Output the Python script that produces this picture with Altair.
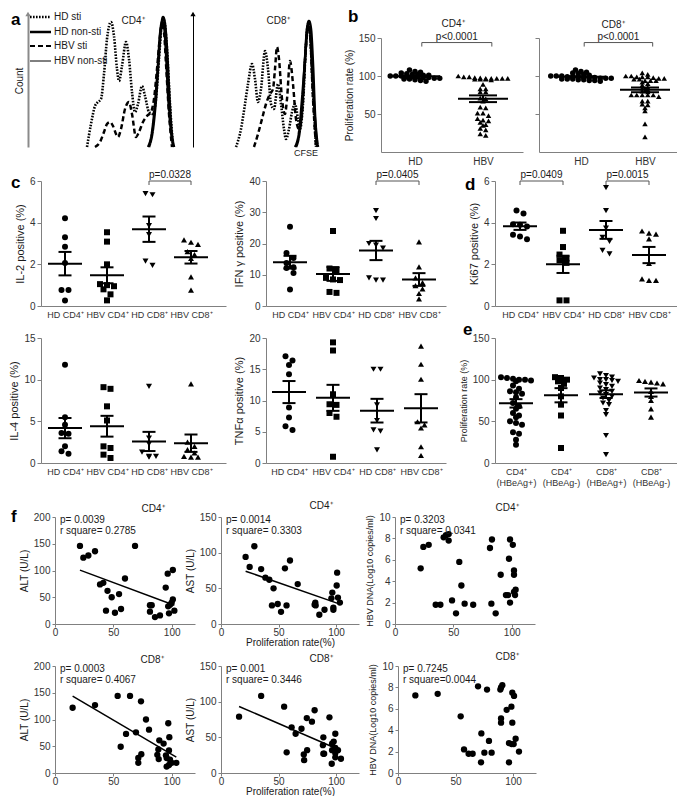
import json
import altair as alt
import pandas as pd

FONT = "Liberation Sans"
AXC = "#808080"
LBC = "#333333"
TXC = "#1a1a1a"

# ---------------- a: CFSE histograms (CFSE channel, cell count) ----------------
SERIES = ["HD sti", "HD non-sti", "HBV sti", "HBV non-sti"]
DASHES = [[1.6, 1.4], [1, 0], [5, 3], [1, 0]]
WIDTHS = [2.6, 2.4, 2.0, 1.0]

A4_HD_STI_CH = [59, 63, 67, 70, 73, 76, 79, 83, 86, 89, 91, 94, 98, 101, 104, 107, 110, 114, 117, 121, 125, 128, 131, 134, 136, 139, 142, 145]
A4_HD_STI_N = [0, 23, 41, 45, 48, 73, 108, 125, 111, 78, 66, 81, 105, 88, 55, 35, 43, 61, 51, 35, 33, 48, 88, 123, 127, 98, 43, 0]
A4_HD_NON_CH = [121, 125, 128, 131, 133, 135, 137, 139, 141, 143, 146]
A4_HD_NON_N = [0, 18, 48, 93, 118, 130, 123, 98, 58, 23, 0]
A4_HBV_STI_CH = [67, 72, 76, 79, 82, 85, 88, 90, 93, 97, 101, 104, 108, 111, 115, 119, 123, 126, 129, 132, 134, 136, 138, 141, 144]
A4_HBV_STI_N = [0, 5, 15, 23, 25, 21, 13, 10, 18, 38, 45, 33, 10, 15, 25, 31, 35, 48, 78, 111, 123, 115, 83, 33, 0]
A4_HBV_NON_CH = [120, 124, 127, 130, 132, 134, 136, 138, 140, 143, 146]
A4_HBV_NON_N = [0, 15, 43, 83, 113, 125, 121, 93, 53, 15, 0]

A8_HD_STI_CH = [43, 48, 52, 55, 59, 62, 65, 68, 72, 75, 78, 81, 85, 88, 91, 93, 96, 99, 102, 105, 107, 110, 113, 115, 117, 120, 123]
A8_HD_STI_N = [0, 18, 43, 63, 83, 68, 45, 58, 96, 78, 43, 38, 63, 43, 18, 8, 18, 35, 43, 28, 18, 43, 103, 123, 113, 53, 0]
A8_HD_NON_CH = [103, 107, 110, 112, 114, 116, 118, 120, 122, 125]
A8_HD_NON_N = [0, 18, 53, 88, 118, 126, 118, 83, 33, 0]
A8_HBV_STI_CH = [61, 65, 69, 73, 77, 80, 82, 84, 86, 89, 92, 94, 97, 100, 103, 106, 109, 112, 114, 115, 117, 120, 123]
A8_HBV_STI_N = [0, 13, 28, 43, 53, 58, 78, 100, 88, 48, 33, 48, 86, 63, 28, 18, 33, 83, 113, 121, 113, 48, 0]
A8_HBV_NON_CH = [102, 106, 109, 112, 114, 115, 117, 119, 122, 124]
A8_HBV_NON_N = [0, 15, 48, 88, 115, 121, 115, 78, 28, 0]

# ---------------- b: proliferation rate (%) ----------------
B4_HD = [108, 106, 105, 104, 103, 102, 102, 101, 101, 100, 100, 100, 99, 99, 99, 98, 98, 97, 97, 96, 96, 95, 94, 93]
B4_HBV = [100, 97.5, 96, 96, 97, 98, 99, 99, 96, 97, 97, 97, 97, 95, 89, 83, 83, 79, 79, 71, 70, 67, 58, 59,
          51, 51, 48, 44, 41, 42, 39, 36, 35, 29, 31, 22, 24]
B8_HD = [108, 106, 105, 104, 103, 102, 101, 100, 100, 100, 99, 99, 99, 98, 98, 98, 97, 97, 97, 96, 96, 96, 95, 95, 94, 94, 93]
B8_HBV = [104, 100, 99, 100, 97, 99, 102, 97, 99, 96, 94, 94, 94, 96, 98, 79, 75, 75, 75, 73, 75, 80, 75, 84,
          85, 82, 90, 92, 88, 63, 67, 62, 58, 67, 54, 37, 20]

# ---------------- c / d: cytokine and Ki67 positive (%) ----------------
GROUPS_C = ["HD CD4⁺", "HBV CD4⁺", "HD CD8⁺", "HBV CD8⁺"]
IL2 = [[4.21, 3.3, 2.85, 2.06, 0.77, 0.77, 0.27],
       [3.54, 3.09, 2.0, 1.0, 0.95, 1.05, 0.8, 0.56, 0.27],
       [5.34, 5.39, 3.86, 3.43, 1.95, 2.15],
       [3.06, 2.96, 3.17, 2.61, 2.47, 2.28, 1.4, 0.76]]
IFNG = [[25.4, 17.0, 15.4, 13.8, 12.4, 12.2, 10.6, 5.3],
        [24.0, 12.0, 11.5, 9.0, 8.5, 8.3, 4.5, 4.2],
        [30.5, 28.0, 20.0, 19.5, 18.5, 9.0, 8.3, 8.3],
        [20.5, 12.5, 9.0, 7.5, 6.5, 5.5, 4.0, 2.3]]
KI67 = [[4.58, 4.44, 3.93, 3.9, 3.82, 3.42, 3.34, 3.21],
        [3.61, 2.83, 2.28, 2.2, 2.47, 2.07, 0.27, 0.27],
        [5.68, 4.58, 3.74, 3.3, 3.1, 2.5, 2.67],
        [3.5, 3.6, 3.45, 3.22, 2.04, 1.3, 1.23, 1.23]]
IL4 = [[11.8, 5.5, 4.6, 3.6, 3.5, 2.0, 1.4, 1.1],
       [9.1, 8.9, 6.8, 5.1, 2.0, 1.8, 1.0, 0.6],
       [9.2, 3.0, 2.3, 1.3, 0.8, 0.8, 0.7],
       [9.5, 2.5, 2.0, 1.6, 1.2, 0.8, 0.7, 0.7]]
TNFA = [[17.1, 16.4, 15.7, 14.2, 8.9, 7.3, 5.9, 5.3],
        [19.3, 18.0, 11.0, 9.4, 9.3, 8.0, 7.4, 1.0],
        [15.0, 15.0, 9.3, 6.8, 5.3, 5.1, 2.1],
        [18.7, 15.8, 13.4, 6.6, 6.1, 5.6, 2.6, 1.2]]

# ---------------- e: proliferation by HBeAg status ----------------
E_LABELS = [["CD4⁺", "(HBeAg+)"], ["CD4⁺", "(HBeAg-)"], ["CD8⁺", "(HBeAg+)"], ["CD8⁺", "(HBeAg-)"]]
E_VALS = [[103, 102, 101, 100, 100, 99, 98, 93, 89, 86, 85, 83, 79, 72, 68, 65, 60, 57, 55, 50, 48, 46, 37, 35, 28, 22],
          [103, 102, 100, 98, 95, 90, 80, 70, 57, 18],
          [107, 105, 103, 102, 100, 100, 99, 98, 96, 94, 92, 90, 88, 86, 84, 82, 80, 78, 75, 72, 70, 63, 58, 33, 10],
          [99, 98, 97, 96, 95, 86, 80, 75, 65, 55]]

# ---------------- f: correlations with proliferation rate ----------------
ALT4_X = [21.4, 24.3, 28.6, 34.3, 38.6, 41.4, 45, 48.6, 43.7, 51.4, 54.9, 56.6, 60, 68.6, 81.4, 82.9, 81.4, 85.7, 90, 94.9, 96.6, 97, 98.6, 100, 101, 101, 97.7, 102.3]
ALT4_Y = [146, 124, 128, 136, 74, 77, 62, 50, 25, 21, 56, 28, 85, 146, 35, 35, 23, 13, 16, 68, 94, 33, 36, 40, 46, 101, 20, 25]
AST4_X = [21.4, 24.9, 29, 34.9, 38.6, 42, 45.7, 44.3, 49.3, 52.2, 55.6, 57, 60, 66.7, 82, 81.4, 82.3, 85.5, 90, 96, 96.8, 97.7, 97.7, 100.6, 101, 101.7, 103.4]
AST4_Y = [94, 80, 109, 77, 65, 62, 50, 26, 28, 17, 78, 26, 89, 56, 30, 27, 26, 13, 20, 36, 44, 23, 20, 54, 72, 37, 30]
DNA4_X = [22, 24.3, 28.9, 34.9, 38.9, 41.7, 43.7, 46, 46, 48.9, 52.3, 55.1, 56.9, 59.7, 67, 81.4, 83.1, 82.6, 86.3, 90.6, 95.1, 96.9, 97.7, 98.6, 98.6, 101, 102, 102, 102, 102.9, 103.4]
DNA4_Y = [5.2, 7.2, 7.4, 1.8, 1.8, 8.1, 8.3, 8.4, 7.8, 2.2, 1.0, 5.8, 3.6, 1.9, 1.8, 7.1, 7.9, 1.9, 1.0, 4.6, 2.7, 2.7, 6.1, 7.9, 2.0, 7.4, 5.0, 4.6, 3.0, 2.7, 3.2]
ALT8_X = [15.1, 34.3, 53.7, 64.3, 56.3, 60.9, 69.4, 73.7, 78, 80.6, 71.4, 71.4, 74, 89.4, 88.6, 87.7, 88.9, 93.1, 95.1, 97.1, 98, 97.7, 95.7, 97.7, 98.6, 100, 104, 95.7]
ALT8_Y = [122, 127, 144, 144, 49, 73, 76, 134, 100, 81, 28, 19, 35, 61, 44, 34, 26, 55, 33, 93, 67, 42, 12, 15, 25, 19, 19, 28]
AST8_X = [15.7, 34.9, 54.9, 57.1, 61.4, 64.9, 70, 72, 72.3, 74.9, 74.6, 79.1, 81.4, 89, 88.6, 89, 89.7, 94.3, 96.6, 96.6, 96.3, 98, 99.4, 99.4, 99.4, 99.4, 101.7, 104.3]
AST8_Y = [79, 108, 93, 29, 64, 55, 62, 26, 18, 32, 77, 72, 88, 50, 39, 27, 27, 78, 41, 32, 13, 44, 55, 28, 22, 35, 32, 20]
DNA8_X = [15.1, 34.5, 54.5, 57.4, 61.4, 64.9, 69.6, 72.5, 72.2, 75.1, 77.4, 79.1, 81.4, 89, 89.6, 90.7, 89.6, 89.6, 94.5, 96.5, 98.8, 100.6, 96.5, 98.6, 99.4, 99.4, 100.9, 102.3, 105.2]
DNA8_Y = [7.25, 7.4, 5.3, 2.2, 1.8, 1.8, 8.1, 3.7, 1.0, 1.9, 7.8, 3.0, 1.9, 7.8, 8.0, 8.2, 5.1, 4.7, 5.9, 2.8, 2.7, 2.7, 1.0, 6.2, 4.7, 7.5, 7.2, 3.2, 2.0]

SH4 = ["circle", "square", "triangle-down", "triangle-up"]


# ---------------- helpers ----------------
def note(text, x, y, size=10, weight="normal", align="center", baseline="middle", color=TXC):
    return alt.Chart(pd.DataFrame({"t": [text]})).mark_text(
        fontSize=size, fontWeight=weight, align=align, baseline=baseline, color=color
    ).encode(text="t:N", x=alt.value(x), y=alt.value(y))


def letter(ch, x, y):
    return note(ch, x, y, size=17, weight="bold", align="left", baseline="top", color="black")


def gap(w, h):
    return alt.Chart(pd.DataFrame({"t": [""]})).mark_text(opacity=0).encode(
        text="t:N").properties(width=w, height=h)


def swarm(vals, ymax, height, dx, dy):
    order = sorted(range(len(vals)), key=lambda i: -vals[i])
    offs = [0.0] * len(vals)
    rows, cur, top = [], [], None
    for i in order:
        ypx = vals[i] / ymax * height
        if cur and top - ypx > dy:
            rows.append(cur)
            cur = []
        if not cur:
            top = ypx
        cur.append(i)
    if cur:
        rows.append(cur)
    for r in rows:
        k = len(r)
        for j, i in enumerate(r):
            offs[i] = (j - (k - 1) / 2) * dx
    return offs


def key_layers(rows_y):
    out = []
    for i, s in enumerate(SERIES):
        out.append(alt.Chart(pd.DataFrame({"s": [s]})).mark_rule(
            color="black", strokeDash=DASHES[i], strokeWidth=WIDTHS[i]
        ).encode(x=alt.value(2), x2=alt.value(23), y=alt.value(rows_y[i])))
        out.append(note(s, 26, rows_y[i], align="left"))
    return out


def hist(curves, width, height, xmax, axis_color, axis_w, count_title, extra=()):
    rows = []
    for name, chs, ns in curves:
        for c, n in zip(chs, ns):
            rows.append({"series": name, "ch": c, "n": n})
    df = pd.DataFrame(rows)
    xs = alt.Scale(domain=[0, xmax], nice=False, zero=False)
    ys = alt.Scale(domain=[0, 133], nice=False)
    yax = alt.Axis(title=count_title, ticks=False, labels=False, grid=False,
                   domainColor=axis_color, domainWidth=axis_w, titleFontSize=10,
                   titleFontWeight="normal", titleColor=TXC, titlePadding=4)
    lines = alt.Chart(df).mark_line(interpolate="monotone", color="black").encode(
        x=alt.X("ch:Q", scale=xs, axis=None),
        y=alt.Y("n:Q", scale=ys, axis=yax),
        strokeDash=alt.StrokeDash("series:N", scale=alt.Scale(domain=SERIES, range=DASHES), legend=None),
        strokeWidth=alt.StrokeWidth("series:N", scale=alt.Scale(domain=SERIES, range=WIDTHS), legend=None),
    )
    arrow = alt.Chart(pd.DataFrame({"ch": [0], "n": [133]})).mark_point(
        shape="triangle-up", filled=True, size=28, color=axis_color, opacity=1
    ).encode(x=alt.X("ch:Q", scale=xs, axis=None), y=alt.Y("n:Q", scale=ys, axis=yax))
    return alt.layer(lines, arrow, *extra).properties(width=width, height=height)


def dotplot(groups, shapes, ymax, yticks, ytitle, width, height, step, first, xlabels,
            brackets=(), ylabels=True, mean_half=17, cap_half=6.5, msize=36,
            ytitle_size=11, dx=7.0, dy=5.0, xlabel_size=9, extra=()):
    n = len(groups)
    rows = []
    for gi, vals in enumerate(groups):
        offs = swarm(vals, ymax, height, dx, dy)
        for v, o in zip(vals, offs):
            rows.append({"g": gi + 1, "v": v, "xp": gi + 1 + o / step, "shp": shapes[gi]})
    df = pd.DataFrame(rows)
    lo = 1 - first / step
    xs = alt.Scale(domain=[lo, lo + width / step], nice=False, zero=False)
    ys = alt.Scale(domain=[0, ymax], nice=False)
    xax = alt.Axis(values=list(range(1, n + 1)),
                   labelExpr=json.dumps(xlabels, ensure_ascii=False) + "[datum.value - 1]",
                   title=None, ticks=False, grid=False, domainColor=AXC, labelFontSize=xlabel_size,
                   labelColor=LBC, labelPadding=4, labelAngle=0, labelFlush=False,
                   labelOverlap=False)
    yax = alt.Axis(values=yticks, title=ytitle, labels=ylabels, grid=False, domainColor=AXC,
                   tickColor=AXC, tickSize=4, labelFontSize=10, labelColor=LBC, labelPadding=2,
                   titleFontSize=ytitle_size, titleFontWeight="normal", titleColor=TXC,
                   titlePadding=4)

    def X(f):
        return alt.X(f, scale=xs, axis=xax)

    def Y(f):
        return alt.Y(f, scale=ys, axis=yax)

    base = alt.Chart(df)
    stats = base.transform_aggregate(m="mean(v)", se="stderr(v)", groupby=["g"]).transform_calculate(
        lo="datum.m - datum.se", hi="datum.m + datum.se",
        ml=f"datum.g - {mean_half / step}", mr=f"datum.g + {mean_half / step}",
        cl=f"datum.g - {cap_half / step}", cr=f"datum.g + {cap_half / step}")
    layers = [
        base.mark_point(filled=True, size=msize, opacity=1, color="black").encode(
            x=X("xp:Q"), y=Y("v:Q"), shape=alt.Shape("shp:N", scale=None)),
        stats.mark_rule(color="black", strokeWidth=2).encode(x=X("ml:Q"), x2="mr:Q", y=Y("m:Q")),
        stats.mark_rule(color="black", strokeWidth=2).encode(x=X("g:Q"), y=Y("lo:Q"), y2="hi:Q"),
        stats.mark_rule(color="black", strokeWidth=2).encode(x=X("cl:Q"), x2="cr:Q", y=Y("lo:Q")),
        stats.mark_rule(color="black", strokeWidth=2).encode(x=X("cl:Q"), x2="cr:Q", y=Y("hi:Q")),
    ]
    if brackets:
        drop = 4 * ymax / height
        bdf = pd.DataFrame([{"a": a, "b": b, "y": y, "y0": y - drop, "c": (a + b) / 2, "t": t}
                            for a, b, y, t in brackets])
        bb = alt.Chart(bdf)
        layers += [
            bb.mark_rule(color="#555555", strokeWidth=1).encode(x=X("a:Q"), x2="b:Q", y=Y("y:Q")),
            bb.mark_rule(color="#555555", strokeWidth=1).encode(x=X("a:Q"), y=Y("y0:Q"), y2="y:Q"),
            bb.mark_rule(color="#555555", strokeWidth=1).encode(x=X("b:Q"), y=Y("y0:Q"), y2="y:Q"),
            bb.mark_text(fontSize=10, baseline="bottom", dy=-1, color=TXC).encode(
                x=X("c:Q"), y=Y("y:Q"), text="t:N"),
        ]
    layers += list(extra)
    return alt.layer(*layers).properties(width=width, height=height)


def scatter(xv, yv, ymax, yticks, ytitle, width, height, ptxt, rtxt, title, tx, ty,
            xtitle=None, reg=False, ytitle_size=10, extra=()):
    df = pd.DataFrame({"x": xv, "y": yv})
    xs = alt.Scale(domain=[0, 120], nice=False)
    ys = alt.Scale(domain=[0, ymax], nice=False)
    xax = alt.Axis(values=[0, 50, 100], title=xtitle, grid=False, domainColor=AXC, tickColor=AXC,
                   tickSize=3, labelFontSize=10, labelColor=LBC, labelPadding=0, labelFlush=False,
                   titleFontSize=10, titleFontWeight="normal", titleColor=TXC, titlePadding=0)
    yax = alt.Axis(values=yticks, title=ytitle, grid=False, domainColor=AXC, tickColor=AXC,
                   tickSize=3, labelFontSize=10, labelColor=LBC, labelPadding=2,
                   titleFontSize=ytitle_size, titleFontWeight="normal", titleColor=TXC,
                   titlePadding=4)

    def X(f):
        return alt.X(f, scale=xs, axis=xax)

    def Y(f):
        return alt.Y(f, scale=ys, axis=yax)

    layers = [alt.Chart(df).mark_circle(size=40, opacity=1, color="black").encode(x=X("x:Q"), y=Y("y:Q"))]
    if reg:
        layers.append(alt.Chart(df).transform_regression("x", "y").mark_line(
            color="black", strokeWidth=1.5).encode(x=X("x:Q"), y=Y("y:Q")))
    layers += [note(ptxt, 5, 3, align="left"), note(rtxt, 5, 14, align="left"), note(title, tx, ty)]
    layers += list(extra)
    return alt.layer(*layers).properties(width=width, height=height)


# ---------------- panels ----------------
a1 = hist([(SERIES[0], A4_HD_STI_CH, A4_HD_STI_N), (SERIES[1], A4_HD_NON_CH, A4_HD_NON_N),
           (SERIES[2], A4_HBV_STI_CH, A4_HBV_STI_N), (SERIES[3], A4_HBV_NON_CH, A4_HBV_NON_N)],
          157, 133, 157, "#8a8a8a", 2, "Count",
          extra=key_layers([3, 18, 32, 47]) + [note("CD4⁺", 105, 7), letter("a", -17, -2)])
a2 = hist([(SERIES[0], A8_HD_STI_CH, A8_HD_STI_N), (SERIES[1], A8_HD_NON_CH, A8_HD_NON_N),
           (SERIES[2], A8_HBV_STI_CH, A8_HBV_STI_N), (SERIES[3], A8_HBV_NON_CH, A8_HBV_NON_N)],
          145, 133, 145, "black", 1, None,
          extra=[note("CD8⁺", 85, 7), note("CFSE", 113, 139, size=9)])

b1 = dotplot([B4_HD, B4_HBV], ["circle", "triangle-up"], 150, [50, 100, 150], "Proliferation rate (%)",
             142, 114, 68, 34, ["HD", "HBV"], brackets=[(1.1, 2.13, 144, "p<0.0001")],
             mean_half=25, cap_half=14, msize=30, ytitle_size=10, dx=5.5, dy=2.5, xlabel_size=10,
             extra=[note("CD4⁺", 72, -14), letter("b", -33, -29)])
b2 = dotplot([B8_HD, B8_HBV], ["circle", "triangle-up"], 150, [50, 100, 150], None,
             138, 114, 64, 42, ["HD", "HBV"], brackets=[(1.05, 2.12, 144, "p<0.0001")], ylabels=False,
             mean_half=25, cap_half=14, msize=30, dx=5.5, dy=2.5, xlabel_size=10,
             extra=[note("CD8⁺", 74, -13)])

il2 = dotplot(IL2, SH4, 6, [0, 2, 4, 6], "IL-2 positive (%)", 185, 125, 42, 24, GROUPS_C,
              brackets=[(3, 4, 6, "p=0.0328")], extra=[letter("c", -30, -6)])
ifng = dotplot(IFNG, SH4, 40, [0, 10, 20, 30, 40], "IFN γ positive (%)", 180, 125, 43, 24, GROUPS_C,
               brackets=[(3, 4, 40, "p=0.0405")])
ki67 = dotplot(KI67, SH4, 6, [0, 2, 4, 6], "Ki67 positive (%)", 182, 125, 43, 25, GROUPS_C,
               brackets=[(1, 2, 6, "p=0.0409"), (3, 4, 6, "p=0.0015")], extra=[letter("d", -30, -4)])
il4 = dotplot(IL4, SH4, 15, [0, 5, 10, 15], "IL-4 positive (%)", 185, 125, 42, 24, GROUPS_C)
tnfa = dotplot(TNFA, SH4, 20, [0, 5, 10, 15, 20], "TNFα positive (%)", 180, 125, 44, 23, GROUPS_C)
epan = dotplot(E_VALS, SH4, 150, [0, 50, 100, 150], "Proliferation rate (%)", 182, 125, 45, 21, E_LABELS,
               ytitle_size=9, dx=6, dy=4, extra=[letter("e", -32, -16)])

alt4 = scatter(ALT4_X, ALT4_Y, 200, [0, 50, 100, 150, 200], "ALT (U/L)", 140, 107,
               "p= 0.0039", "r square= 0.2785", "CD4⁺", 98, -8, reg=True, extra=[letter("f", -44, -8)])
ast4 = scatter(AST4_X, AST4_Y, 150, [0, 50, 100, 150], "AST (U/L)", 138, 107,
               "p= 0.0014", "r square= 0.3303", "CD4⁺", 100, -11, xtitle="Proliferation rate(%)", reg=True)
dna4 = scatter(DNA4_X, DNA4_Y, 10, [0, 2, 4, 6, 8, 10], "HBV DNA(Log10 copies/ml)", 140, 107,
               "p=  0.3203", "r square= 0.0341", "CD4⁺", 112, -9, ytitle_size=9)
alt8 = scatter(ALT8_X, ALT8_Y, 200, [0, 50, 100, 150, 200], "ALT (U/L)", 140, 107,
               "p= 0.0003", "r square= 0.4067", "CD8⁺", 97, -6, reg=True)
ast8 = scatter(AST8_X, AST8_Y, 150, [0, 50, 100, 150], "AST (U/L)", 138, 107,
               "p= 0.001", "r square= 0.3446", "CD8⁺", 100, -7, xtitle="Proliferation rate(%)", reg=True)
dna8 = scatter(DNA8_X, DNA8_Y, 10, [0, 2, 4, 6, 8, 10], "HBV DNA(Log10 copies/ml)", 138, 107,
               "p= 0.7245", "r square=0.0044", "CD8⁺", 109, -9, ytitle_size=9)

RES = dict(strokeDash="independent", strokeWidth="independent")

bcol = alt.vconcat(gap(1, 24), alt.hconcat(b1, gap(16, 1), b2, spacing=0, bounds="flush"),
                   spacing=0, bounds="flush")
row1 = alt.hconcat(a1, gap(8, 1), a2, gap(43, 1), bcol, spacing=0, bounds="flush").resolve_scale(**RES)
row2 = alt.hconcat(gap(13, 1), il2, gap(40, 1), ifng, gap(49, 1), ki67, spacing=0, bounds="flush")
row3 = alt.hconcat(gap(13, 1), il4, gap(40, 1), tnfa, gap(49, 1), epan, spacing=0, bounds="flush")
row4 = alt.hconcat(gap(27, 1), alt4, gap(26, 1), ast4, gap(36, 1), dna4, spacing=0, bounds="flush")
row5 = alt.hconcat(gap(27, 1), alt8, gap(26, 1), ast8, gap(39, 1), dna8, spacing=0, bounds="flush")

lower45 = alt.vconcat(row4, row5, spacing=5)
lower345 = alt.vconcat(row3, lower45, spacing=14)
lower2345 = alt.vconcat(row2, lower345, spacing=2)
chart = alt.vconcat(row1, lower2345, spacing=4, padding=0).resolve_scale(**RES)
chart = chart.configure(font=FONT).configure_view(stroke=None).configure_axis(
    labelFont=FONT, titleFont=FONT)

chart.save("out.html", embed_options={"renderer": "svg", "actions": False})
